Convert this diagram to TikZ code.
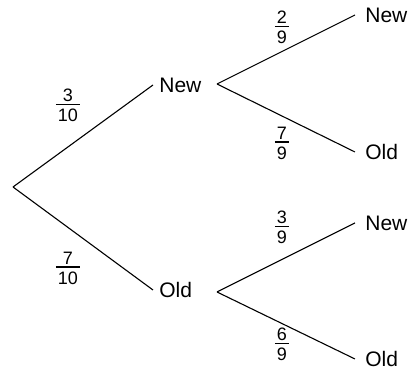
\documentclass[tikz,border=0pt]{standalone}
\usepackage{fontspec}
\setmainfont{Liberation Sans}
\usepackage{tikz}

\setlength{\arrayrulewidth}{0.6pt}
\newcommand{\prob}[2]{{\renewcommand{\arraystretch}{0}%
  \begin{tabular}{@{\hspace{1pt}}c@{\hspace{1pt}}}\rule[-1.2pt]{0pt}{6.5pt}#1\\\hline\rule{0pt}{8.2pt}#2\end{tabular}}}

\begin{document}
\begin{tikzpicture}[
    x=0.5pt, y=-0.5pt,
    mid/.style={anchor=west, inner xsep=3pt, inner ysep=0pt, font=\fontsize{10.5}{12}\selectfont},
    leaf/.style={anchor=west, inner xsep=5pt, inner ysep=0pt, font=\fontsize{10.5}{12}\selectfont},
    frac/.style={inner sep=0pt, font=\fontsize{9}{10}\selectfont},
    branch/.style={line width=0.55pt}
]
\useasboundingbox (0,0) rectangle (409,378);

% Nodes
\coordinate (root) at (13,187);
\node[mid] (new) at (153,85) {New};
\node[mid] (old) at (153,290) {Old};
\coordinate (forknew) at (217,84);
\coordinate (forkold) at (217,292);

\node[leaf] (newnew) at (355,15) {New};
\node[leaf] (newold) at (355,152) {Old};
\node[leaf] (oldnew) at (355,223) {New};
\node[leaf] (oldold) at (355,359) {Old};

% Probabilities
\node[frac] (pnew) at (68,105) {\prob{3}{10}};
\node[frac] (pold) at (68,268) {\prob{7}{10}};
\node[frac] (pnewnew) at (282,27) {\prob{2}{9}};
\node[frac] (pnewold) at (282,143) {\prob{7}{9}};
\node[frac] (poldnew) at (282,227) {\prob{3}{9}};
\node[frac] (poldold) at (282,344) {\prob{6}{9}};

% Connections
\draw[branch] (root) -- (new.west);
\draw[branch] (root) -- (old.west);
\draw[branch] (forknew) -- (newnew.west);
\draw[branch] (forknew) -- (newold.west);
\draw[branch] (forkold) -- (oldnew.west);
\draw[branch] (forkold) -- (oldold.west);

\end{tikzpicture}
\end{document}
